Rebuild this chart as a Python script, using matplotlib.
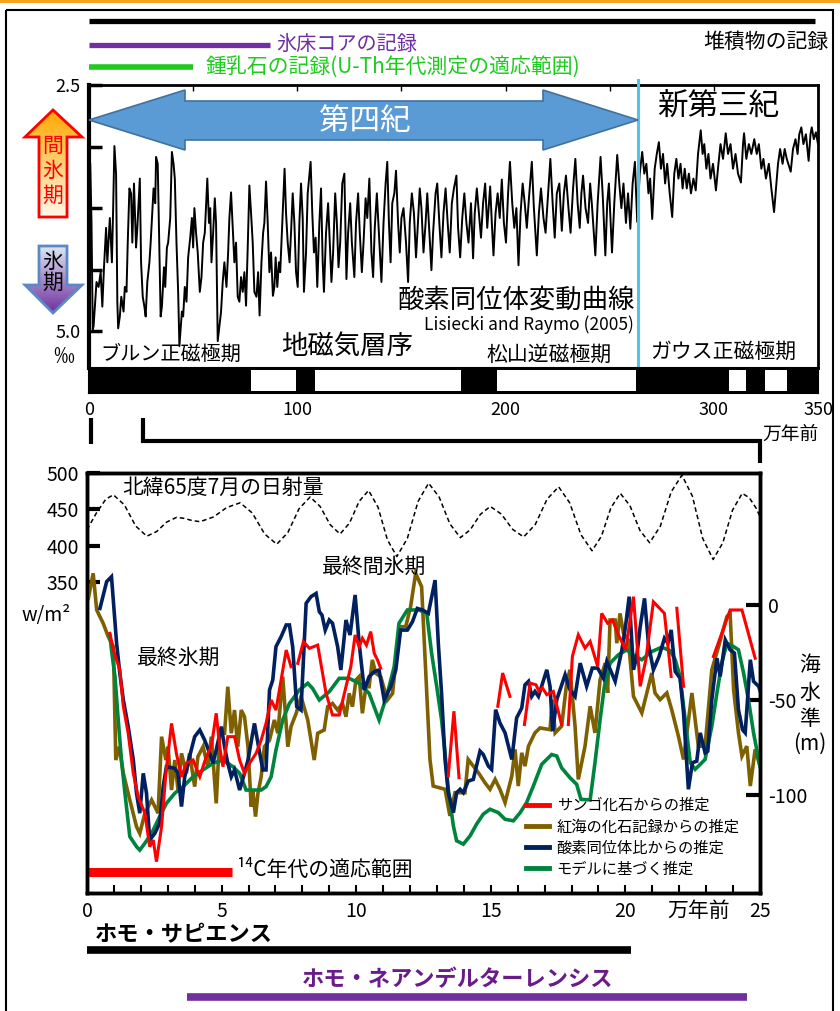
import numpy as np
import matplotlib.pyplot as plt
import matplotlib.colors as mcolors
from matplotlib.patches import Polygon, Rectangle
from matplotlib.lines import Line2D
from matplotlib.transforms import blended_transform_factory

plt.rcParams["font.family"] = ["Noto Sans CJK JP", "DejaVu Sans"]
plt.rcParams["axes.unicode_minus"] = False

nan = np.nan

# -----------------------------
# Data: upper panel (age in 10 kyr units, d18O in permil)
# -----------------------------
lr04 = [
    (0.0, 3.23), (0.6, 3.3), (1.2, 3.9), (1.8, 4.98), (2.2, 4.95), (2.8, 4.75), (3.6, 4.5),
    (4.6, 4.55), (5.6, 4.4), (6.4, 4.75), (7.2, 4.35), (8.2, 3.95), (8.8, 4.3), (10.0, 3.85),
    (11.0, 4.3), (11.6, 3.75), (12.2, 3.12), (13.0, 3.4), (13.6, 4.7), (14.0, 4.97), (14.8, 4.85),
    (15.5, 4.65), (16.6, 4.8), (17.2, 4.55), (18.0, 4.6), (18.6, 4.1), (19.4, 3.55), (20.2, 3.6),
    (20.8, 4.1), (21.6, 3.5), (22.6, 4.15), (23.2, 3.95), (24.4, 3.45), (25.0, 4.3), (25.8, 4.65),
    (26.6, 4.75), (27.2, 4.85), (28.0, 4.5), (29.0, 4.3), (29.6, 4.1), (31.0, 3.55), (31.8, 3.7),
    (32.2, 3.23), (33.0, 3.3), (33.8, 4.2), (34.4, 4.85), (35.0, 4.75), (36.0, 4.35), (36.6, 4.55),
    (37.4, 4.15), (38.0, 4.1), (39.0, 3.85), (39.8, 3.18), (40.6, 3.3), (41.2, 3.45), (42.0, 4.1),
    (42.8, 4.6), (43.4, 5.15), (44.6, 4.8), (45.2, 4.85), (46.0, 4.55), (46.8, 4.7), (47.6, 4.25),
    (48.6, 4.05), (49.4, 3.85), (50.0, 4.15), (50.6, 3.75), (51.4, 4.0), (52.2, 4.2), (53.2, 4.6),
    (54.0, 4.45), (54.8, 4.1), (55.6, 4.0), (56.8, 3.45), (57.6, 3.9), (58.2, 3.75), (58.8, 4.3),
    (59.6, 4.0), (60.4, 3.65), (61.0, 3.9), (61.8, 5.1), (62.6, 4.95), (63.4, 4.8), (64.2, 4.5),
    (65.0, 4.3), (66.0, 4.55), (66.8, 4.2), (67.4, 3.85), (68.2, 3.59), (69.0, 3.95), (69.8, 4.3),
    (70.6, 4.1), (71.4, 4.65), (72.2, 4.7), (73.0, 4.45), (73.8, 4.6), (74.6, 4.4), (75.4, 4.74),
    (76.2, 4.15), (77.0, 3.52), (77.8, 3.8), (78.6, 4.1), (79.4, 4.6), (80.4, 4.65), (81.2, 4.4),
    (81.9, 4.84), (82.8, 4.3), (83.6, 4.0), (84.2, 3.9), (85.0, 3.48), (85.8, 3.9), (86.6, 4.4),
    (87.4, 4.2), (88.3, 4.64), (89.0, 4.55), (89.6, 4.25), (90.4, 4.55), (91.2, 4.3), (91.8, 4.4),
    (92.6, 4.0), (93.9, 3.35), (94.6, 3.8), (95.4, 4.1), (96.3, 4.3), (97.0, 4.0), (97.8, 3.6),
    (98.6, 3.9), (99.4, 4.4),
    (100.2, 4.55), (101.0, 3.9), (101.8, 3.5), (102.6, 3.85), (103.2, 4.6), (104.2, 4.2), (105.0, 3.6),
    (106.4, 3.28), (107.2, 3.8), (108.0, 4.2), (108.8, 4.05), (109.6, 4.55), (110.6, 3.9), (111.4, 3.55),
    (112.2, 4.3), (112.8, 4.6), (113.8, 4.0), (114.8, 3.7), (115.6, 4.1), (116.4, 4.5), (117.2, 4.2),
    (118.2, 3.6), (119.0, 3.9), (119.8, 4.35), (120.6, 4.1), (121.6, 3.5), (122.6, 3.4), (123.6, 4.47),
    (124.4, 4.0), (125.4, 3.7), (126.2, 4.1), (127.4, 4.45), (128.2, 3.9), (129.2, 3.6), (130.0, 4.0),
    (131.0, 4.4), (131.8, 4.1), (132.8, 3.65), (133.6, 3.85), (134.6, 3.45), (135.6, 4.2), (136.4, 4.45),
    (137.2, 3.95), (138.2, 3.6), (139.2, 4.0), (140.4, 4.5), (141.4, 3.9), (142.4, 3.5), (143.2, 3.28),
    (144.0, 3.9), (144.8, 4.3), (145.6, 3.7), (146.6, 3.6), (147.4, 3.37), (148.4, 3.9), (149.2, 4.2),
    (150.0, 3.85), (151.0, 3.75), (152.2, 4.1), (153.2, 4.5), (154.0, 3.9), (155.0, 3.6), (156.0, 3.8),
    (157.0, 4.25), (157.8, 3.95), (158.8, 3.55), (159.6, 3.75), (160.6, 4.2), (161.6, 3.9), (162.4, 3.6),
    (163.4, 4.0), (164.4, 4.38), (165.2, 4.0), (166.4, 3.6), (167.2, 3.5), (168.2, 3.9), (169.2, 4.25),
    (170.2, 3.8), (171.2, 3.55), (172.2, 3.9), (173.2, 4.2), (174.2, 3.7), (175.2, 3.55), (176.4, 3.42),
    (177.2, 3.95), (178.2, 4.25), (179.2, 3.85), (180.2, 3.6), (181.2, 3.9), (182.2, 4.1), (183.4, 3.7),
    (184.4, 4.26), (185.2, 3.8), (186.2, 3.55), (187.2, 3.8), (188.2, 4.05), (189.2, 3.7), (190.2, 3.5),
    (191.2, 3.95), (192.6, 3.53), (193.4, 3.9), (194.2, 4.23), (195.2, 3.8), (196.2, 3.6), (197.2, 3.85),
    (198.2, 3.46), (199.2, 3.9), (200.2, 4.1), (201.2, 3.6), (202.1, 3.28), (203.2, 3.7), (204.2, 3.95),
    (205.2, 3.75), (206.2, 4.33), (207.2, 3.8), (208.2, 3.5), (209.2, 3.7), (210.2, 3.95), (211.4, 3.6),
    (212.6, 3.28), (213.6, 3.75), (215.0, 4.23), (216.0, 3.8), (217.0, 3.55), (218.2, 3.85), (219.2, 4.0),
    (220.4, 3.6), (221.5, 3.25), (222.6, 3.7), (223.6, 4.05), (224.6, 3.6), (225.8, 3.5), (227.0, 3.98),
    (228.0, 3.6), (229.0, 3.42), (230.2, 3.75), (231.2, 4.0), (232.4, 3.55), (233.5, 3.25), (234.6, 3.7),
    (235.6, 3.95), (236.4, 3.6), (237.2, 3.42), (238.4, 3.75), (239.6, 3.9), (240.6, 3.5), (241.4, 3.7),
    (243.1, 4.23), (244.2, 3.7), (245.6, 3.23), (246.6, 3.6), (247.9, 4.23), (248.8, 3.7), (249.6, 3.5),
    (251.1, 4.2), (252.2, 3.7), (253.6, 3.21), (254.6, 3.5), (255.6, 3.75), (256.6, 3.5), (257.8, 3.9),
    (258.8, 3.6), (259.9, 3.96), (261.0, 3.5), (262.1, 3.28), (263.2, 3.89),
    (264.4, 3.4), (265.6, 3.18), (266.6, 3.4), (267.6, 3.3), (268.6, 3.6), (269.4, 3.45), (270.4, 3.86),
    (271.6, 3.35), (272.6, 3.2), (273.6, 3.08), (274.6, 3.35), (275.6, 3.2), (276.6, 3.5), (277.6, 3.3),
    (278.8, 3.6), (280.0, 3.84), (281.0, 3.4), (282.0, 3.25), (283.0, 3.45), (284.0, 3.3), (285.0, 3.55),
    (286.0, 3.35), (287.0, 3.55), (288.0, 3.4), (289.0, 3.6), (290.2, 3.45), (291.3, 3.57), (292.4, 3.2),
    (293.7, 2.96), (294.6, 3.2), (295.4, 3.1), (296.4, 3.35), (297.4, 3.2), (298.4, 3.45), (299.6, 3.3),
    (301.0, 3.57), (302.2, 3.3), (303.2, 3.1), (304.4, 3.25), (305.7, 2.99), (306.8, 3.2), (308.0, 3.1),
    (309.2, 3.35), (310.4, 3.2), (311.6, 3.4), (313.0, 3.49), (314.0, 3.1), (314.5, 2.99), (315.6, 3.25),
    (316.8, 3.1), (318.0, 3.2), (319.4, 3.05), (320.6, 3.2), (321.6, 3.1), (322.8, 3.35), (323.8, 3.25),
    (325.0, 3.45), (326.4, 3.3), (327.6, 3.55), (328.9, 3.79), (330.0, 3.5), (330.8, 3.3), (331.8, 3.15),
    (333.0, 3.3), (334.0, 3.15), (335.0, 3.25), (336.9, 3.38), (338.0, 3.15), (339.2, 3.05), (340.2, 3.2),
    (341.0, 3.0), (342.0, 2.93), (343.0, 3.1), (344.2, 3.0), (345.5, 3.27), (346.4, 3.0), (347.0, 2.93),
    (348.0, 3.05), (349.0, 2.98), (350.0, 3.1),
]

# reversed polarity intervals (white boxes), 10 kyr
reversed_start = [78, 108.5, 196, 307.5, 324.5]
reversed_end = [99.5, 178.5, 262.5, 315.5, 335]
quaternary_base = 263.8

# record coverage bars (10 kyr)
sediment_range = [0, 348.6]
icecore_range = [0, 87]
speleothem_range = [0, 50]

# -----------------------------
# Data: lower panel (age in 10 kyr units)
# -----------------------------
insolation = [
    (0.0, 422), (0.35, 445), (0.7, 464), (0.98, 470), (1.39, 456), (1.81, 427), (2.22, 413),
    (2.59, 419.5), (2.96, 432.5), (3.33, 439), (3.62, 437.5), (3.91, 434.5), (4.2, 433), (4.7, 439.5),
    (5.19, 452.5), (5.69, 459), (6.14, 445), (6.6, 416), (7.05, 402), (7.46, 418), (7.88, 451),
    (8.29, 467), (8.66, 454), (9.03, 429), (9.4, 416), (9.75, 431), (10.11, 461), (10.46, 476),
    (10.81, 453), (11.16, 408), (11.51, 385), (11.9, 410), (12.3, 461), (12.69, 486), (13.08, 467),
    (13.48, 430), (13.87, 411), (14.24, 422), (14.61, 443), (14.98, 454), (15.39, 443.5), (15.81, 422.5),
    (16.22, 412), (16.65, 429), (17.09, 464), (17.52, 481), (17.93, 459), (18.35, 415), (18.76, 393),
    (19.11, 413), (19.46, 452), (19.81, 472), (20.17, 455), (20.54, 421), (20.9, 404), (21.3, 427),
    (21.7, 474), (22.1, 497), (22.49, 468), (22.87, 410), (23.26, 381), (23.62, 404), (23.98, 449),
    (24.34, 472), (24.6, 466), (24.85, 452), (25.0, 440),
]

coral = [
    (0.85, -14.9), (0.98, -23.7), (1.22, -34.2), (1.35, -53.5), (1.53, -67.5), (1.72, -88.6), (1.9, -100.9),
    (2.15, -109.6), (2.33, -127.2), (2.46, -123.7), (2.58, -135.1), (2.77, -116.7), (2.93, -88.6),
    (3.14, -62.3), (3.32, -78.1), (3.51, -90.4), (3.69, -83.3), (3.94, -81.6), (4.19, -90.4), (4.43, -79.8),
    (4.62, -74.6), (4.8, -57.0), (4.93, -74.6), (5.05, -85.1), (5.23, -69.3), (5.48, -69.3), (5.67, -81.6),
    (5.85, -88.6), (6.04, -83.3), (6.28, -78.1), (6.47, -71.1), (6.65, -62.3), (6.84, -50.0), (7.02, -55.3),
    (7.21, -39.5), (7.4, -23.7), (7.58, -32.5), (nan, nan),
    (7.83, -30.7), (8.04, -19.3), (8.26, -22.8), (8.57, -21.1), (8.88, -46.5), (9.12, -57.9), (9.37, -57.9),
    (9.62, -43.0), (9.8, -32.5), (9.96, -15.8), (10.11, -21.9), (10.23, -17.5), (10.38, -21.1),
    (10.54, -14.0), (10.67, -25.4), (10.79, -28.9), (10.91, -33.3), (nan, nan),
    (13.42, -90.0), (13.63, -55.9), (13.82, -90.9), (nan, nan),
    (15.26, -53.3), (15.44, -35.8), (15.71, -48.1), (nan, nan),
    (16.25, -62.9), (16.46, -41.1), (16.68, -42.0), (16.79, -45.5), (16.92, -43.7), (17.08, -47.2),
    (17.32, -45.5), (17.63, -62.9), (nan, nan),
    (17.88, -62.9), (18.03, -27.1), (18.25, -15.7), (18.5, -22.7), (18.69, -19.2), (18.97, -32.3),
    (19.12, -4.4), (19.34, -9.6), (19.52, -7.9), (19.77, -16.6), (20.01, -23.6), (20.3, 4.4),
    (20.55, -42.8), (20.76, -28.8), (21.04, 1.7), (21.45, -4.4), (21.7, -37.6), (nan, nan),
    (21.91, -1.7), (22.16, -42.8), (nan, nan),
    (23.27, -27.1), (23.58, -14.9), (23.89, -2.6), (24.33, -2.6), (24.82, -28.0),
]

red_sea = [
    (0.05, 3.5), (0.23, 16.7), (0.36, -2.6), (0.6, -9.6), (0.79, -16.7), (0.98, -21.9), (1.07, -81.6),
    (1.2, -74.6), (1.35, -88.6), (1.59, -102.6), (1.84, -116.7), (1.96, -120.2), (2.15, -109.6),
    (2.4, -102.6), (2.64, -109.6), (2.77, -69.3), (2.93, -81.6), (3.01, -74.6), (3.14, -97.4),
    (3.26, -81.6), (3.38, -97.4), (3.51, -78.1), (3.69, -88.6), (3.81, -78.1), (4.0, -95.6),
    (4.12, -79.8), (4.31, -74.6), (4.49, -85.1), (4.62, -69.3), (4.8, -104.4), (4.93, -67.5),
    (5.11, -67.5), (5.23, -43.0), (5.36, -67.5), (5.48, -55.3), (5.6, -74.6), (5.73, -55.3),
    (5.85, -58.8), (5.98, -74.6), (6.1, -106.1), (6.16, -97.4), (6.26, -111.4), (6.35, -99.1),
    (6.47, -90.4), (6.59, -74.6), (6.78, -71.1), (6.96, -60.5), (7.09, -67.5), (7.27, -37.7),
    (7.46, -74.6), (7.58, -64.0), (7.77, -57.0), (7.95, -48.2), (8.2, -60.5), (8.44, -81.6),
    (8.57, -67.5), (8.81, -65.8), (8.94, -53.5), (9.12, -51.8), (9.31, -55.3), (9.49, -51.8),
    (9.62, -58.8), (9.74, -46.5), (9.86, -53.5), (9.99, -39.5), (10.11, -37.7), (10.23, -57.0),
    (10.36, -43.0), (10.48, -43.0), (10.6, -28.9), (10.73, -36.0), (10.91, -37.7), (11.16, -50.0),
    (11.35, -46.5), (11.53, -21.9), (11.65, -11.4), (11.84, -11.4), (12.02, -0.9), (12.21, 16.7),
    (12.43, 9.6), (12.62, -46.3), (12.74, -81.3), (12.86, -95.3), (13.3, -97.0), (13.48, -111.0),
    (13.67, -98.8), (14.04, -98.8), (14.16, -81.3), (14.35, -84.8), (14.54, -88.3), (14.78, -93.5),
    (14.97, -97.0), (15.16, -91.8), (15.34, -97.0), (15.53, -104.0), (15.78, -90.0), (15.9, -76.0),
    (16.02, -95.3), (16.15, -77.8), (16.27, -84.8), (16.4, -74.3), (16.64, -67.3), (16.83, -64.7),
    (17.2, -65.6), (17.29, -49.8), (17.39, -67.3), (17.63, -63.8), (17.82, -41.1), (17.94, -34.1),
    (18.13, -63.8), (18.25, -91.8), (18.5, -74.3), (18.69, -53.3), (18.87, -67.3), (19.06, -39.3),
    (19.25, -30.6), (19.34, -46.3), (19.43, -7.9), (19.62, -7.9), (19.68, -20.1), (19.8, -4.4),
    (19.93, -14.9), (20.11, -18.4), (20.3, -48.1), (20.61, -56.8), (20.98, -35.8), (21.1, -46.3),
    (21.29, -49.8), (21.54, -46.3), (21.72, -55.1), (21.97, -69.1), (22.16, -81.3), (22.47, -46.3),
    (22.71, -74.3), (22.96, -74.3), (23.21, -34.1), (23.46, -21.9), (23.77, -6.1), (23.89, -4.4),
    (24.02, -44.6), (24.2, -67.3), (24.33, -79.5), (24.51, -74.3), (24.64, -95.3), (24.82, -76.0),
    (25.0, -84.8),
]

oxygen_isotope = [
    (0.48, -1.8), (0.73, 12.3), (0.91, 14.9), (1.1, -20.2), (1.22, -36.0), (1.35, -50.0), (1.53, -64.0),
    (1.72, -81.6), (1.84, -99.1), (1.96, -109.6), (2.09, -88.6), (2.21, -99.1), (2.33, -123.7),
    (2.52, -120.2), (2.7, -114.9), (2.83, -95.6), (2.95, -85.1), (3.26, -86.0), (3.38, -88.6),
    (3.51, -106.1), (3.63, -90.4), (3.81, -79.8), (4.0, -69.3), (4.19, -65.8), (4.37, -71.1),
    (4.56, -78.1), (4.68, -83.3), (4.8, -76.3), (4.99, -64.0), (5.11, -74.6), (5.23, -83.3),
    (5.36, -90.4), (5.48, -86.8), (5.67, -97.4), (5.85, -88.6), (5.98, -81.6), (6.22, -62.3),
    (6.35, -72.8), (6.53, -86.8), (6.65, -86.8), (6.78, -44.7), (6.9, -39.5), (7.02, -21.9),
    (7.21, -16.7), (7.4, -10.5), (7.52, -10.5), (7.64, -21.9), (7.79, -53.5), (7.95, -55.3),
    (8.14, 0.9), (8.32, 4.4), (8.51, 6.1), (8.63, -3.5), (8.73, -5.3), (8.85, -13.2), (9.0, -7.9),
    (9.12, -9.6), (9.31, -21.9), (9.43, -34.2), (9.62, -7.9), (9.77, -15.8), (9.96, 5.3),
    (10.11, -20.2), (10.3, -44.7), (10.48, -37.7), (10.67, -35.1), (10.85, -34.2), (11.04, -50.0),
    (11.28, -43.0), (11.47, -34.2), (11.65, -13.2), (11.9, -13.2), (12.09, -8.8), (12.27, -1.8),
    (12.46, -2.6), (12.68, -4.4), (12.93, 13.1), (13.05, -20.1), (13.17, -46.3), (13.3, -81.3),
    (13.42, -98.8), (13.61, -109.3), (13.73, -98.8), (13.86, -97.0), (13.98, -98.8), (14.16, -92.7),
    (14.35, -91.8), (14.6, -76.9), (14.72, -78.7), (14.91, -84.8), (15.03, -86.5), (15.18, -55.1),
    (15.34, -62.1), (15.53, -67.3), (15.78, -81.3), (15.96, -59.4), (16.15, -54.2), (16.27, -42.0),
    (16.4, -40.2), (16.52, -48.1), (16.64, -45.5), (16.77, -48.1), (17.08, -34.1), (17.2, -42.8),
    (17.3, -66.4), (17.45, -49.8), (17.76, -36.7), (17.94, -44.6), (18.13, -48.1), (18.32, -30.6),
    (18.56, -42.8), (18.77, -33.2), (18.97, -33.2), (19.18, -38.5), (19.31, -29.7), (19.62, -40.2),
    (19.87, -23.6), (20.01, -10.5), (20.14, 4.4), (20.3, -34.1), (20.42, -27.1), (20.55, -11.4),
    (20.71, 3.5), (20.86, -21.0), (21.04, -34.1), (21.25, -27.1), (21.45, -17.5), (21.58, -20.1),
    (21.7, -13.1), (21.85, -35.0), (22.03, -38.5), (22.16, -56.8), (22.34, -97.0), (22.49, -83.0),
    (22.65, -82.2), (22.78, -67.3), (22.96, -77.8), (23.06, -76.9), (23.21, -49.8), (23.4, -28.0),
    (23.52, -37.6), (23.71, -18.4), (23.89, -23.6), (24.05, -25.3), (24.2, -55.1), (24.35, -65.6),
    (24.45, -67.3), (24.64, -28.8), (24.76, -40.2), (24.95, -42.8), (25.0, -45.0),
]

model = [
    (0.85, -16.0), (0.91, -23.7), (1.04, -37.7), (1.16, -60.5), (1.28, -81.6), (1.41, -99.1),
    (1.59, -121.9), (1.84, -127.2), (1.96, -129.0), (2.15, -125.4), (2.4, -120.2), (2.7, -111.4),
    (2.95, -104.4), (3.26, -99.1), (3.57, -95.6), (3.94, -90.4), (4.31, -86.8), (4.68, -83.3),
    (5.05, -81.6), (5.42, -85.1), (5.67, -88.6), (5.91, -97.4), (6.47, -97.4), (6.65, -95.6),
    (6.84, -90.4), (7.02, -76.3), (7.27, -60.5), (7.52, -51.8), (7.89, -44.7), (8.2, -41.2),
    (8.38, -43.9), (8.63, -50.0), (9.0, -45.6), (9.37, -38.6), (9.74, -38.6), (10.11, -41.2),
    (10.48, -46.5), (10.85, -60.5), (11.16, -46.5), (11.41, -32.5), (11.59, -9.6), (11.9, -2.6),
    (12.33, -2.6), (12.62, -4.4), (12.8, -25.3), (12.99, -42.8), (13.17, -60.3), (13.3, -77.8),
    (13.42, -97.0), (13.61, -116.3), (13.73, -124.1), (13.98, -125.9), (14.23, -121.5),
    (14.47, -115.4), (14.72, -110.1), (14.97, -107.5), (15.28, -109.3), (15.53, -112.8),
    (15.84, -113.6), (16.09, -109.3), (16.33, -104.0), (16.58, -95.3), (16.89, -83.9), (17.26, -78.7),
    (17.45, -79.5), (17.63, -85.7), (17.94, -90.9), (18.19, -94.4), (18.35, -102.3), (18.69, -102.6),
    (18.87, -83.0), (19.06, -60.3), (19.22, -42.8), (19.43, -30.6), (19.74, -26.2), (20.05, -23.6),
    (20.36, -27.1), (20.61, -28.8), (20.98, -24.5), (21.35, -22.2), (21.66, -24.0), (21.85, -28.8),
    (22.03, -37.6), (22.22, -60.3), (22.41, -83.0), (22.59, -86.5), (22.96, -81.3), (23.21, -63.8),
    (23.4, -46.3), (23.58, -30.6), (23.77, -20.1), (24.02, -21.9), (24.2, -23.6), (24.39, -35.8),
    (24.57, -49.8), (24.76, -67.3), (25.0, -85.0),
]

c14_range = [0, 5.4]
c14_level = -140.8
sapiens_range = [0, 20.2]
neanderthal_range = [3.7, 24.5]

labels = ["サンゴ化石からの推定", "紅海の化石記録からの推定", "酸素同位体比からの推定", "モデルに基づく推定"]
colors = ["#FF0000", "#7F6000", "#002060", "#00843D"]

# -----------------------------
# Figure / axes
# -----------------------------
W, H = 840, 1011
fig = plt.figure(figsize=(8.4, 10.11), dpi=100)

ax_top = fig.add_axes([89 / W, 1 - 368 / H, 729 / W, 283 / H])
ax_mag = fig.add_axes([89 / W, 1 - 393 / H, 729 / W, 25 / H])
ax_low = fig.add_axes([87 / W, 1 - 893 / H, 673 / W, 420 / H])
ax_sl = ax_low.twinx()

ov = fig.add_axes([0, 0, 1, 1], zorder=10)
ov.set_xlim(0, W)
ov.set_ylim(H, 0)
ov.set_autoscale_on(False)
ov.axis("off")
ov.patch.set_alpha(0)

# -----------------------------
# Upper panel
# -----------------------------
t, d = np.array(lr04).T
ax_top.plot(t, d, color="black", lw=1.4, zorder=3)
ax_top.set_xlim(0, 350)
ax_top.set_ylim(5.373, 2.5)
ax_top.set_yticks([2.5, 3.125, 3.75, 4.375, 5.0])
ax_top.set_yticklabels(["2.5", "", "", "", "5.0"])
ax_top.tick_params(axis="y", direction="in", length=9, width=2.5, labelsize=13, pad=6)
ax_top.set_xticks(np.arange(0, 351, 50))
ax_top.tick_params(axis="x", direction="in", top=True, bottom=False, labelbottom=False, length=4, width=1)
for s in ax_top.spines.values():
    s.set_linewidth(2)
ax_top.spines["left"].set_linewidth(3)
ax_top.plot([quaternary_base, quaternary_base], [5.373, 2.45], color="#55C1EE", lw=2.2,
            clip_on=False, zorder=4)

ax_mag.set_facecolor("black")
for s, e in zip(reversed_start, reversed_end):
    ax_mag.axvspan(s, e, ymin=0.08, ymax=0.92, color="white", lw=0)
ax_mag.set_xlim(0, 350)
ax_mag.set_yticks([])
ax_mag.set_xticks([0, 100, 200, 300, 350])
ax_mag.tick_params(axis="x", length=0, labelsize=13, pad=6)
for s in ax_mag.spines.values():
    s.set_linewidth(1.5)

# record coverage bars
top_bl = blended_transform_factory(ax_top.transData, ov.transData)
ov.plot(sediment_range, [20.5, 20.5], color="black", lw=3.8, solid_capstyle="butt", transform=top_bl)
ov.plot(icecore_range, [44.5, 44.5], color="#7030A0", lw=3.8, solid_capstyle="butt", transform=top_bl)
ov.plot(speleothem_range, [67, 67], color="#1FCB1F", lw=4, solid_capstyle="butt", transform=top_bl)

# -----------------------------
# Lower panel
# -----------------------------
it, iw = np.array(insolation).T
ax_low.plot(it, iw, color="black", lw=1.1, ls=(0, (3, 2)))
ax_low.set_xlim(0, 25)
ax_low.set_ylim(-78, 500)
ax_low.set_yticks([350, 400, 450, 500])
ax_low.tick_params(axis="y", direction="in", length=9, width=3, labelsize=14, pad=6)
ax_low.set_xticks(range(0, 26, 5))
ax_low.set_xticks(range(0, 26), minor=True)
ax_low.tick_params(axis="x", which="both", direction="in", length=6, width=1.5, labelsize=14, pad=6)
for s in ax_low.spines.values():
    s.set_linewidth(2.5)

series = [red_sea, model, oxygen_isotope, coral]
series_colors = [colors[1], colors[3], colors[2], colors[0]]
series_lw = [2.6, 2.6, 2.6, 2.2]
for data, c, lw in zip(series, series_colors, series_lw):
    x, y = np.array(data).T
    ax_sl.plot(x, y, color=c, lw=lw, solid_joinstyle="miter")

ax_sl.plot(c14_range, [c14_level, c14_level], color="#FF0000", lw=6.5, solid_capstyle="butt")
ax_sl.set_ylim(-151.6, 69.5)
ax_sl.set_yticks([0, -50, -100])
ax_sl.tick_params(axis="y", direction="in", length=10, width=3, labelsize=14, pad=6)
for s in ax_sl.spines.values():
    s.set_linewidth(2.5)

handles = [Line2D([], [], color=c, lw=3.5) for c in colors]
ax_sl.legend(handles, labels, loc="upper left", bbox_to_anchor=(526 / W, 1 - 797 / H),
             bbox_transform=fig.transFigure, frameon=False, fontsize=11, handlelength=1.5,
             handletextpad=0.5, labelspacing=0.28, borderpad=0, borderaxespad=0)

low_bl = blended_transform_factory(ax_low.transData, ov.transData)
ov.plot(sapiens_range, [950, 950], color="black", lw=5.5, solid_capstyle="butt", transform=low_bl)
ov.plot(neanderthal_range, [997, 997], color="#7030A0", lw=5.5, solid_capstyle="butt", transform=low_bl)

# -----------------------------
# Decorations (figure pixel coords)
# -----------------------------
ov.add_patch(Rectangle((0, 0), W, 3, color="#F7A21B", lw=0))
ov.add_patch(Rectangle((6, 10), 827, 1010, fill=False, ec="black", lw=1.5))


def grad_arrow(pts, c_top, c_bot, edge, extent):
    patch = Polygon(pts, closed=True, fc="none", ec=edge, lw=2, zorder=3)
    ov.add_patch(patch)
    c0 = np.array(mcolors.to_rgb(c_top))
    c1 = np.array(mcolors.to_rgb(c_bot))
    f = np.linspace(0, 1, 64)[:, None, None]
    img = c0 * (1 - f) + c1 * f
    im = ov.imshow(img, extent=extent, aspect="auto", zorder=2, interpolation="bilinear")
    im.set_clip_path(patch)


grad_arrow([(53, 110), (82, 137), (67, 137), (67, 217), (39, 217), (39, 137), (25, 137)],
           "#FFA800", "#FFF8EA", "#FF0000", (25, 82, 217, 110))
grad_arrow([(39, 246), (67, 246), (67, 285), (82, 285), (53, 313), (25, 285), (39, 285)],
           "#DCE6F2", "#7030A0", "#5A8AC6", (25, 82, 313, 246))
ov.set_xlim(0, W)
ov.set_ylim(H, 0)

for ch, yy in zip("間氷期", [146, 171, 196]):
    ov.text(53, yy, ch, color="#FF0000", fontsize=15, ha="center", va="center")
for ch, yy in zip("氷期", [262, 283]):
    ov.text(53, yy, ch, color="black", fontsize=15, ha="center", va="center")

ov.add_patch(Polygon([(89, 120), (185, 90), (185, 101), (543, 101), (543, 90), (638, 120),
                      (543, 150), (543, 140), (185, 140), (185, 150)],
                     closed=True, fc="#5B9BD5", ec="#41719C", lw=1.2))
ov.text(365, 121, "第四紀", color="white", fontsize=22, ha="center", va="center")
ov.text(718, 106, "新第三紀", color="black", fontsize=22, ha="center", va="center")

ov.text(276, 44, "氷床コアの記録", color="#7030A0", fontsize=14.5, ha="left", va="center")
ov.text(828, 42, "堆積物の記録", color="black", fontsize=15, ha="right", va="center")
ov.text(206, 67, "鍾乳石の記録(U-Th年代測定の適応範囲)", color="#1FCB1F", fontsize=15,
        ha="left", va="center")

ov.text(635, 300, "酸素同位体変動曲線", fontsize=19, ha="right", va="center")
ov.text(634, 325, "Lisiecki and Raymo (2005)", fontsize=12.5, ha="right", va="center")
ov.text(347, 346, "地磁気層序", fontsize=19, ha="center", va="center")
ov.text(100, 354, "ブルン正磁極期", fontsize=14.5, ha="left", va="center")
ov.text(612, 355, "松山逆磁極期", fontsize=15, ha="right", va="center")
ov.text(650, 352, "ガウス正磁極期", fontsize=15, ha="left", va="center")
ov.text(64, 357, "‰", fontsize=15, ha="center", va="center")
ov.text(790, 434, "万年前", fontsize=13.5, ha="center", va="center")

# bracket linking the panels
ov.plot([91, 91], [418, 444], color="black", lw=3, solid_capstyle="butt")
ov.plot([143, 143, 760, 760], [418, 441, 441, 463], color="black", lw=3,
        solid_joinstyle="miter", solid_capstyle="butt")

ov.text(122, 488, "北緯65度7月の日射量", fontsize=15, ha="left", va="center")
ov.text(322, 567, "最終間氷期", fontsize=15, ha="left", va="center")
ov.text(137, 658, "最終氷期", fontsize=15, ha="left", va="center")
ov.text(46, 615, "w/m²", fontsize=14, ha="center", va="center")
for ch, yy in zip(["海", "水", "準", "(m)"], [665, 693, 719, 744]):
    ov.text(810, yy, ch, fontsize=15, ha="center", va="center")
ov.text(237, 870, "¹⁴C年代の適応範囲", fontsize=15, ha="left", va="center")
ov.text(699, 911, "万年前", fontsize=15, ha="center", va="center")
ov.text(95, 935, "ホモ・サピエンス", fontsize=16, fontweight="bold", ha="left", va="center")
ov.text(458, 980, "ホモ・ネアンデルターレンシス", fontsize=16, fontweight="bold",
        color="#6A1B8A", ha="center", va="center")

fig.savefig("out.png", dpi=100, facecolor="white")
